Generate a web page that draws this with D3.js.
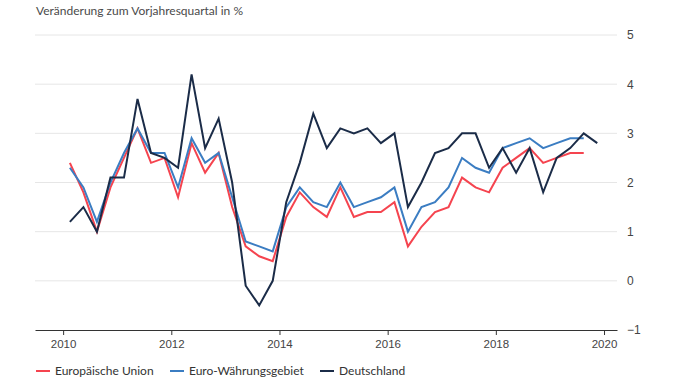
<!DOCTYPE html>
<html>
<head>
<meta charset="utf-8">
<script src="https://cdn.jsdelivr.net/npm/d3@7"></script>
<style>
  html, body { margin: 0; padding: 0; background: #fff; }
  svg { display: block; font-family: Lato, "Noto Sans", sans-serif; }
</style>
</head>
<body>
<svg id="chart" width="678" height="381"></svg>
<script>
/* Quarterly change vs. previous-year quarter, EU / euro area / Germany */

const quarters = [
  "2010Q1","2010Q2","2010Q3","2010Q4","2011Q1","2011Q2","2011Q3","2011Q4",
  "2012Q1","2012Q2","2012Q3","2012Q4","2013Q1","2013Q2","2013Q3","2013Q4",
  "2014Q1","2014Q2","2014Q3","2014Q4","2015Q1","2015Q2","2015Q3","2015Q4",
  "2016Q1","2016Q2","2016Q3","2016Q4","2017Q1","2017Q2","2017Q3","2017Q4",
  "2018Q1","2018Q2","2018Q3","2018Q4","2019Q1","2019Q2","2019Q3","2019Q4"
];

const euValues = [
  2.4, 1.8, 1.0, 1.9, 2.5, 3.1, 2.4, 2.5,
  1.7, 2.8, 2.2, 2.6, 1.5, 0.7, 0.5, 0.4,
  1.3, 1.8, 1.5, 1.3, 1.9, 1.3, 1.4, 1.4,
  1.6, 0.7, 1.1, 1.4, 1.5, 2.1, 1.9, 1.8,
  2.3, 2.5, 2.7, 2.4, 2.5, 2.6, 2.6
];

const euroAreaValues = [
  2.3, 1.9, 1.2, 2.0, 2.6, 3.1, 2.6, 2.6,
  1.9, 2.9, 2.4, 2.6, 1.7, 0.8, 0.7, 0.6,
  1.5, 1.9, 1.6, 1.5, 2.0, 1.5, 1.6, 1.7,
  1.9, 1.0, 1.5, 1.6, 1.9, 2.5, 2.3, 2.2,
  2.7, 2.8, 2.9, 2.7, 2.8, 2.9, 2.9
];

const germanyValues = [
  1.2, 1.5, 1.0, 2.1, 2.1, 3.7, 2.6, 2.5,
  2.3, 4.2, 2.7, 3.3, 2.0, -0.1, -0.5, 0.0,
  1.6, 2.4, 3.4, 2.7, 3.1, 3.0, 3.1, 2.8,
  3.0, 1.5, 2.0, 2.6, 2.7, 3.0, 3.0, 2.3,
  2.7, 2.2, 2.7, 1.8, 2.5, 2.7, 3.0, 2.8
];

const seriesNames = ["Europäische Union", "Euro-Währungsgebiet", "Deutschland"];
const seriesColors = ["#f5444f", "#3b7dc2", "#1b2c48"];
const xTicks = [2010, 2012, 2014, 2016, 2018, 2020];
const yTicks = [-1, 0, 1, 2, 3, 4, 5];

const series = [euValues, euroAreaValues, germanyValues];

// "2013Q2" -> middle of that quarter as decimal year
function quarterMid(q) {
  const year = +q.slice(0, 4), n = +q.slice(5);
  return year + (n - 1) / 4 + 0.125;
}

const svg = d3.select("#chart");
const plotLeft = 35, plotRight = 617, plotTop = 35, plotBottom = 330;

const x = d3.scaleLinear()
  .domain([2009.48, 2020.24])
  .range([plotLeft, plotRight]);

const y = d3.scaleLinear()
  .domain([-1, 5])
  .range([plotBottom, plotTop]);

// title
svg.append("text")
  .attr("x", 36).attr("y", 15)
  .attr("font-size", 12)
  .attr("fill", "#4a4a4a")
  .text("Veränderung zum Vorjahresquartal in %");

// gridlines
svg.append("g")
  .selectAll("line")
  .data(yTicks.filter(t => t > -1))
  .join("line")
  .attr("x1", plotLeft).attr("x2", plotRight)
  .attr("y1", d => y(d)).attr("y2", d => y(d))
  .attr("stroke", "#e6e6e6")
  .attr("stroke-width", 1);

// right y axis labels
const yAxis = svg.append("g")
  .attr("transform", `translate(${plotRight},0)`)
  .call(d3.axisRight(y).tickValues(yTicks).tickSize(0).tickPadding(10).tickFormat(d3.format("d")));
yAxis.select(".domain").remove();
yAxis.selectAll("text")
  .attr("font-size", 12)
  .attr("font-family", null)
  .attr("fill", "#444");

// bottom x axis
const xAxis = svg.append("g")
  .attr("transform", `translate(0,${plotBottom})`)
  .call(d3.axisBottom(x).tickValues(xTicks).tickSize(5).tickSizeOuter(0).tickPadding(5).tickFormat(d3.format("d")));
xAxis.select(".domain").attr("stroke", "#333");
xAxis.selectAll(".tick line").attr("stroke", "#333");
xAxis.selectAll("text")
  .attr("font-size", 11.5)
  .attr("font-family", null)
  .attr("fill", "#444");

// lines
const line = d3.line()
  .x((d, i) => x(quarterMid(quarters[i])))
  .y(d => y(d));

svg.append("g")
  .selectAll("path")
  .data(series)
  .join("path")
  .attr("fill", "none")
  .attr("stroke", (d, i) => seriesColors[i])
  .attr("stroke-width", 2)
  .attr("stroke-linejoin", "miter")
  .attr("d", d => line(d));

// legend
const legendX = [36, 170, 320];
const legend = svg.append("g")
  .selectAll("g")
  .data(seriesNames)
  .join("g")
  .attr("transform", (d, i) => `translate(${legendX[i]},371)`);
legend.append("line")
  .attr("x1", 0).attr("x2", 14)
  .attr("stroke", (d, i) => seriesColors[i])
  .attr("stroke-width", 2);
legend.append("text")
  .attr("x", 19).attr("dy", "0.35em")
  .attr("font-size", 12)
  .attr("fill", "#333")
  .text(d => d);
</script>
</body>
</html>
